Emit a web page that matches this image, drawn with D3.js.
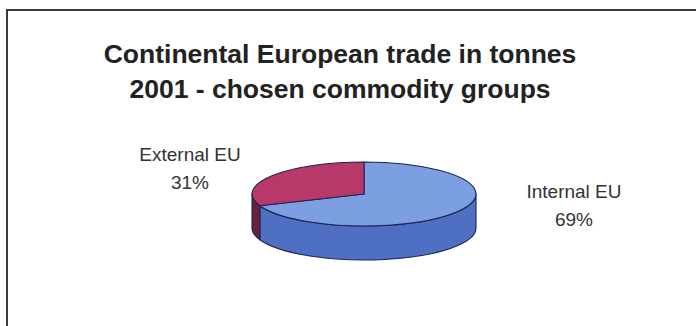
<!DOCTYPE html>
<html>
<head>
<meta charset="utf-8">
<script src="https://cdn.jsdelivr.net/npm/d3@7"></script>
<style>
  html, body { margin: 0; padding: 0; background: #fff; }
  svg { display: block; }
</style>
</head>
<body>
<svg id="chart" width="696" height="326"></svg>
<script>
// Chart data
const titleLines = ["Continental European trade in tonnes", "2001 - chosen commodity groups"];
const categories = ["Internal EU", "External EU"];
const shares = [69, 31];
const topColors = ["#7c9fe2", "#b8386a"];
const sideColors = ["#4f70c2", "#6c1f3d"];

const W = 696, H = 326;
const svg = d3.select("#chart");

// Frame (left and top edges)
svg.append("path")
  .attr("d", `M7,${H} L7,10 L${W},10`)
  .attr("fill", "none")
  .attr("stroke", "#3a3a3a")
  .attr("stroke-width", 2);

// Title
const title = svg.append("text")
  .attr("text-anchor", "middle")
  .attr("font-family", "Liberation Sans, Arial, sans-serif")
  .attr("font-weight", "bold")
  .attr("font-size", 26.5)
  .attr("fill", "#222");
titleLines.forEach((t, i) => {
  title.append("tspan").attr("x", 340).attr("y", 63 + i * 35).text(t);
});

// 3D pie geometry
const cx = 364, cy = 194, rx = 112, ry = 32, depth = 34;
const pie = d3.pie().sort(null).value(d => d);
const arcs = pie(shares);

const pt = (a, dy = 0) => [cx + rx * Math.sin(a), cy - ry * Math.cos(a) + dy];

function topPath(a0, a1) {
  const p0 = pt(a0), p1 = pt(a1);
  const large = (a1 - a0) > Math.PI ? 1 : 0;
  return `M${cx},${cy} L${p0[0]},${p0[1]} A${rx},${ry} 0 ${large} 1 ${p1[0]},${p1[1]} Z`;
}

function sidePath(a0, a1) {
  // visible front wall lies between 90° and 270° (clockwise from top)
  const s = Math.max(a0, Math.PI / 2), e = Math.min(a1, 3 * Math.PI / 2);
  if (e <= s) return null;
  const p0 = pt(s), p1 = pt(e), q1 = pt(e, depth), q0 = pt(s, depth);
  return `M${p0[0]},${p0[1]} A${rx},${ry} 0 0 1 ${p1[0]},${p1[1]} ` +
         `L${q1[0]},${q1[1]} A${rx},${ry} 0 0 0 ${q0[0]},${q0[1]} Z`;
}

const g = svg.append("g");
arcs.forEach((d, i) => {
  const p = sidePath(d.startAngle, d.endAngle);
  if (p) g.append("path").attr("d", p)
    .attr("fill", sideColors[i])
    .attr("stroke", "#1b2450").attr("stroke-width", 1.1)
    .attr("stroke-linejoin", "round");
});
arcs.forEach((d, i) => {
  g.append("path").attr("d", topPath(d.startAngle, d.endAngle))
    .attr("fill", topColors[i])
    .attr("stroke", "#1b2450").attr("stroke-width", 1.1)
    .attr("stroke-linejoin", "round");
});

// Slice labels
const labelPos = [[574, 198], [190, 161]];
arcs.forEach((d, i) => {
  const pct = Math.round(100 * (d.endAngle - d.startAngle) / (2 * Math.PI));
  const t = svg.append("text")
    .attr("text-anchor", "middle")
    .attr("font-family", "Liberation Sans, Arial, sans-serif")
    .attr("font-size", 19)
    .attr("fill", "#333");
  t.append("tspan").attr("x", labelPos[i][0]).attr("y", labelPos[i][1]).text(categories[i]);
  t.append("tspan").attr("x", labelPos[i][0]).attr("y", labelPos[i][1] + 28).text(pct + "%");
});
</script>
</body>
</html>
